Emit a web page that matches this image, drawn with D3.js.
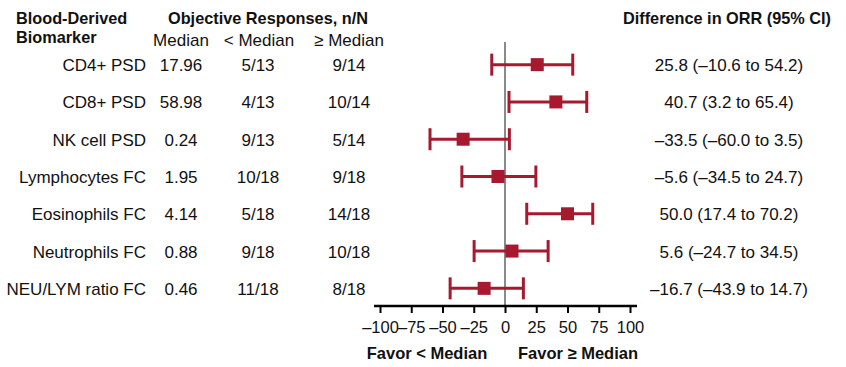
<!DOCTYPE html>
<html><head><meta charset="utf-8">
<script src="https://cdn.jsdelivr.net/npm/d3@7"></script>
<style>body{margin:0;background:#fff}svg{display:block;font-family:"Liberation Sans",Arial,sans-serif}</style>
</head><body><svg id="c" width="846" height="367"></svg>
<script>
const biomarkers = ["CD4+ PSD","CD8+ PSD","NK cell PSD","Lymphocytes FC","Eosinophils FC","Neutrophils FC","NEU/LYM ratio FC"];
const medians = ["17.96","58.98","0.24","1.95","4.14","0.88","0.46"];
const belowMedian = ["5/13","4/13","9/13","10/18","5/18","9/18","11/18"];
const aboveMedian = ["9/14","10/14","5/14","9/18","14/18","10/18","8/18"];
const diff = [25.8,40.7,-33.5,-5.6,50.0,5.6,-16.7];
const lower = [-10.6,3.2,-60.0,-34.5,17.4,-24.7,-43.9];
const upper = [54.2,65.4,3.5,24.7,70.2,34.5,14.7];
const xTicks = [-100,-75,-50,-25,0,25,50,75,100];

const svg = d3.select("#c");
const red = "#a6192e";
const fmt = v => (v<0?"–":"") + Math.abs(v).toFixed(1);

const x = d3.scaleLinear().domain([-100,100]).range([380,630]);
const y = d3.scaleBand().domain(biomarkers).range([46,307]).paddingInner(0).paddingOuter(0);
const yc = d => y(d) + y.bandwidth()/2;

// headers
const hb = svg.append("g").attr("font-weight","bold").attr("font-size",16.3).attr("fill","#111");
hb.append("text").attr("x",16).attr("y",24).text("Blood-Derived");
hb.append("text").attr("x",16).attr("y",43).text("Biomarker");
hb.append("text").attr("x",268).attr("y",24).attr("text-anchor","middle").text("Objective Responses, n/N");
hb.append("text").attr("x",727).attr("y",24).attr("text-anchor","middle").text("Difference in ORR (95% CI)");
const hs = svg.append("g").attr("font-size",17).attr("fill","#111").attr("text-anchor","middle");
hs.append("text").attr("x",181).attr("y",46).text("Median");
hs.append("text").attr("x",259).attr("y",46).text("< Median");
hs.append("text").attr("x",349).attr("y",46).text("≥ Median");

// rows text
const rows = svg.append("g").attr("font-size",17).attr("fill","#111");
biomarkers.forEach((b,i)=>{
  const yy = yc(b) + 6.5;
  rows.append("text").attr("x",146).attr("y",yy).attr("text-anchor","end").text(b);
  rows.append("text").attr("x",181).attr("y",yy).attr("text-anchor","middle").text(medians[i]);
  rows.append("text").attr("x",258).attr("y",yy).attr("text-anchor","middle").text(belowMedian[i]);
  rows.append("text").attr("x",349).attr("y",yy).attr("text-anchor","middle").text(aboveMedian[i]);
  rows.append("text").attr("x",729).attr("y",yy).attr("text-anchor","middle")
    .text(`${fmt(diff[i])} (${fmt(lower[i])} to ${fmt(upper[i])})`);
});

// zero line
svg.append("line").attr("x1",x(0)).attr("x2",x(0)).attr("y1",42).attr("y2",306)
  .attr("stroke","#8a8a8a").attr("stroke-width",2);

// error bars
const g = svg.append("g");
biomarkers.forEach((b,i)=>{
  const cy = yc(b);
  g.append("line").attr("x1",x(lower[i])).attr("x2",x(upper[i])).attr("y1",cy).attr("y2",cy)
    .attr("stroke",red).attr("stroke-width",3);
  [lower[i],upper[i]].forEach(v=>{
    g.append("line").attr("x1",x(v)).attr("x2",x(v)).attr("y1",cy-11).attr("y2",cy+11)
      .attr("stroke",red).attr("stroke-width",3);
  });
  g.append("rect").attr("x",x(diff[i])-6.5).attr("y",cy-6.5).attr("width",13).attr("height",13).attr("fill",red);
});

// axis
const axis = d3.axisBottom(x).tickValues(xTicks).tickSize(7).tickPadding(8)
  .tickFormat(d => (d<0?"–":"") + Math.abs(d));
const ag = svg.append("g").attr("transform","translate(0,306)").call(axis);
ag.select(".domain").remove();
ag.append("line").attr("x1",374).attr("x2",637).attr("y1",0).attr("y2",0).attr("stroke","#000").attr("stroke-width",2.5);
ag.selectAll(".tick line").attr("stroke","#000").attr("stroke-width",2);
ag.selectAll(".tick text").attr("font-size",16.5).attr("fill","#111")
  .attr("font-family","Liberation Sans, Arial, sans-serif");

const fb = svg.append("g").attr("font-weight","bold").attr("font-size",16.5).attr("fill","#111").attr("text-anchor","middle");
fb.append("text").attr("x",427).attr("y",359).text("Favor < Median");
fb.append("text").attr("x",578).attr("y",359).text("Favor ≥ Median");
</script></body></html>
